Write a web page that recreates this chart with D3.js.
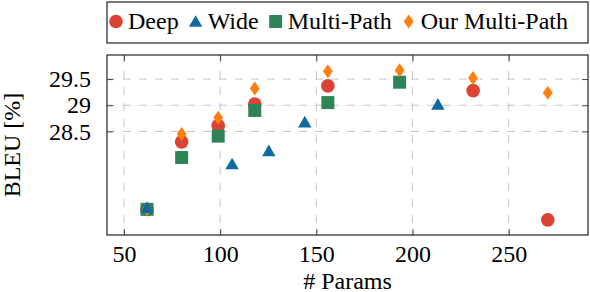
<!DOCTYPE html>
<html>
<head>
<meta charset="utf-8">
<script src="https://cdn.jsdelivr.net/npm/d3@7"></script>
<style>
  body { margin: 0; background: #fff; }
  svg text { font-family: "Liberation Serif", "DejaVu Serif", serif !important; fill: #000; }
</style>
</head>
<body>
<script>
const w = 590;
const h = 292;

// values
const deepParams = [62, 80, 99, 118, 156, 231.5, 270.3];
const deepBleu   = [27.01, 28.30, 28.61, 29.02, 29.37, 29.28, 26.81];

const wideParams = [62, 106.2, 125.3, 144, 213.2];
const wideBleu   = [27.01, 27.85, 28.10, 28.65, 28.99];

const multiParams = [62, 80, 99, 118, 156, 193.3];
const multiBleu   = [27.01, 28.00, 28.41, 28.90, 29.05, 29.44];

const ourParams = [62, 80, 99, 118, 156, 193.3, 231.4, 270.3];
const ourBleu   = [27.01, 28.45, 28.76, 29.32, 29.65, 29.67, 29.52, 29.24];

const xTicks = [50, 100, 150, 200, 250];
const yTicks = [28.5, 29, 29.5];

const seriesNames = ["Deep", "Wide", "Multi-Path", "Our Multi-Path"];
const colors = ["#db4434", "#0f6b9f", "#2e8456", "#fe7f0e"];

// plot box
const pLeft = 107, pRight = 588, pTop = 55, pBottom = 235;

let svg = d3.select("body")
            .append("svg")
            .attr("width", w)
            .attr("height", h);

let x = d3.scaleLinear()
          .domain([41.2, 291.2])
          .range([pLeft, pRight]);

let y = d3.scaleLinear()
          .domain([26.52, 29.96])
          .range([pBottom, pTop]);

// diamond a bit wider than d3's own
const diamond = {
  draw(ctx, size) {
    const hh = Math.sqrt(size / 1.4);
    const hw = hh * 0.7;
    ctx.moveTo(0, -hh);
    ctx.lineTo(hw, 0);
    ctx.lineTo(0, hh);
    ctx.lineTo(-hw, 0);
    ctx.closePath();
  }
};
const shapes = [
  d3.symbol(d3.symbolCircle, 148),
  d3.symbol(d3.symbolTriangle, 78),
  d3.symbol(d3.symbolSquare, 169),
  d3.symbol(diamond, 7 * 7 * 1.4)
];

// grid
let grid = svg.append("g")
  .attr("stroke", "#c4c4c4")
  .attr("stroke-width", 1)
  .attr("stroke-dasharray", "8,8");

grid.selectAll("line.vx")
  .data(xTicks)
  .enter()
  .append("line")
  .attr("x1", (d) => x(d)).attr("x2", (d) => x(d))
  .attr("y1", pTop).attr("y2", pBottom);

grid.selectAll("line.hy")
  .data(yTicks)
  .enter()
  .append("line")
  .attr("x1", pLeft).attr("x2", pRight)
  .attr("y1", (d) => y(d)).attr("y2", (d) => y(d));

// axes, ticks pointing inside on all sides
let xAxisB = d3.axisBottom(x).tickValues(xTicks).tickSize(-6).tickPadding(10);
let xAxisT = d3.axisTop(x).tickValues(xTicks).tickSize(-6).tickFormat("");
let yAxisL = d3.axisLeft(y).tickValues(yTicks).tickSize(-6).tickPadding(16)
               .tickFormat((d) => d3.format("")(d));
let yAxisR = d3.axisRight(y).tickValues(yTicks).tickSize(-6).tickFormat("");

function styleAxis(g) {
  g.attr("font-family", null);
  g.select(".domain").remove();
  g.selectAll(".tick line").attr("stroke", "#444").attr("stroke-width", 1);
  g.selectAll(".tick text").attr("font-size", 24);
}

svg.append("g").attr("transform", `translate(0,${pBottom})`).call(xAxisB).call(styleAxis);
svg.append("g").attr("transform", `translate(0,${pTop})`).call(xAxisT).call(styleAxis);
svg.append("g").attr("transform", `translate(${pLeft},0)`).call(yAxisL).call(styleAxis);
svg.append("g").attr("transform", `translate(${pRight},0)`).call(yAxisR).call(styleAxis);

// marks, drawn in this order so the 62 point stacks like the original
const series = [
  { i: 0, px: deepParams, py: deepBleu },
  { i: 2, px: multiParams, py: multiBleu },
  { i: 3, px: ourParams, py: ourBleu },
  { i: 1, px: wideParams, py: wideBleu }
];

series.forEach((s) => {
  svg.append("g")
     .selectAll("path")
     .data(s.px.map((p, k) => [p, s.py[k]]))
     .enter()
     .append("path")
     .attr("d", shapes[s.i])
     .attr("fill", colors[s.i])
     .attr("transform", (d) => `translate(${x(d[0])},${y(d[1])})`);
});

// frame
svg.append("rect")
   .attr("x", pLeft).attr("y", pTop)
   .attr("width", pRight - pLeft).attr("height", pBottom - pTop)
   .attr("fill", "none")
   .attr("stroke", "#333")
   .attr("stroke-width", 1.3);

// axis titles
svg.append("text")
   .attr("x", (pLeft + pRight) / 2)
   .attr("y", 289)
   .attr("text-anchor", "middle")
   .attr("font-size", 24)
   .text("# Params");

svg.append("text")
   .attr("transform", `translate(20,${(pTop + pBottom) / 2}) rotate(-90)`)
   .attr("text-anchor", "middle")
   .attr("font-size", 24)
   .text("BLEU [%]");

// legend
let legend = svg.append("g");
legend.append("rect")
   .attr("x", pLeft).attr("y", 2)
   .attr("width", pRight - pLeft).attr("height", 41)
   .attr("fill", "#fff")
   .attr("stroke", "#333")
   .attr("stroke-width", 1.3);

let lx = pLeft + 2;
seriesNames.forEach((name, i) => {
  let cx = lx + 7;
  legend.append("path")
     .attr("d", shapes[i])
     .attr("fill", colors[i])
     .attr("transform", `translate(${cx},${i == 1 ? 23 : 21.5})`);
  let t = legend.append("text")
     .attr("x", cx + 12)
     .attr("y", 29)
     .attr("font-size", 24)
     .text(name);
  lx = cx + 12 + t.node().getComputedTextLength() + 10;
});
</script>
</body>
</html>
